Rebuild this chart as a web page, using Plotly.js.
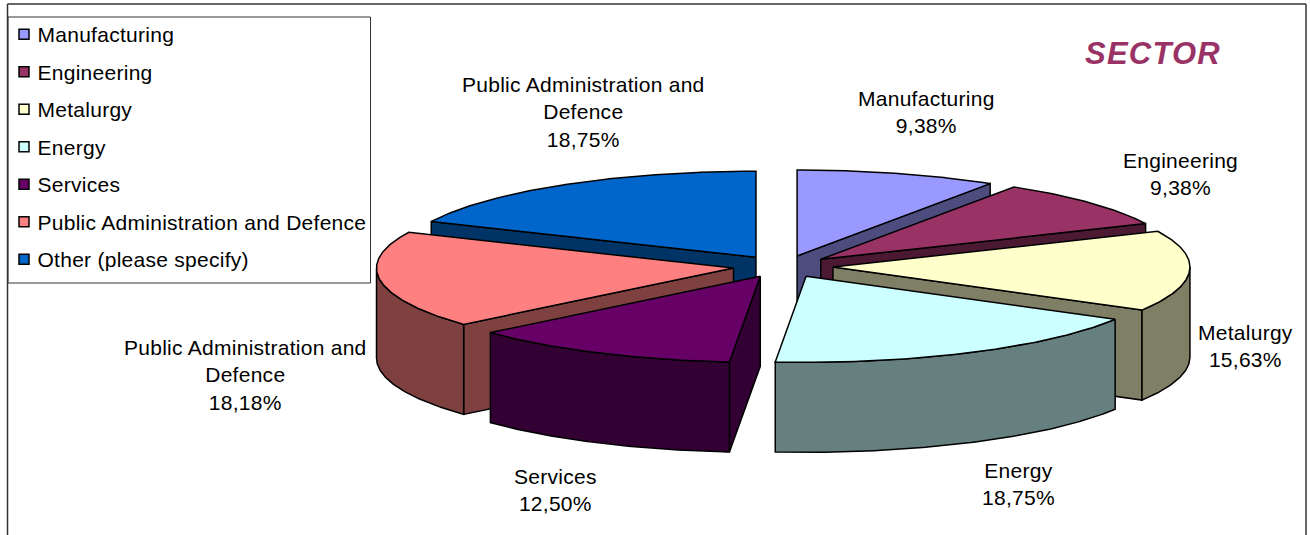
<!DOCTYPE html>
<html>
<head>
<meta charset="utf-8">
<script src="https://cdn.plot.ly/plotly-3.0.1.min.js"></script>
<style>
html,body{margin:0;padding:0;background:#fff;overflow:hidden}
#chart{width:1310px;height:535px}
svg text{letter-spacing:.27px}
svg text.gtitle{letter-spacing:1.2px}
.legend .legendpoints{transform:translateX(4px)}
.legend .legendtext{transform:translateX(-2.5px)}
</style>
</head>
<body>
<div id="chart"></div>
<script>
// ---- data ----
const categories = ["Manufacturing","Engineering","Metalurgy","Energy","Services","Public Administration and Defence","Other (please specify)"];
const sliceValues = [9.38,9.38,15.63,18.60,12.65,18.75,18.75];   // slice sizes as drawn
const pieLabels = ["Manufacturing<br>9,38%","Engineering<br>9,38%","Metalurgy<br>15,63%","Energy<br>18,75%","Services<br>12,50%","Public Administration and<br>Defence<br>18,18%","Public Administration and<br>Defence<br>18,75%"];
const topColors = ["#9999FF","#993366","#FFFFCC","#CCFFFF","#660066","#FF8080","#0066CC"];
const sideColors = ["#4C4C7F","#4C1933","#7F7F66","#667F7F","#330033","#7F4040","#003366"];

// ---- pie projection ----
const CX=783, CY=266.5, RX=357, RY=86, DEPTH=90, EX=50, EY=11;
const drawOrder=[0,6,1,5,2,4,3];
const labelPos=[[926,112],[1180,173.5],[1245,346],[1018,483.5],[555,490],[245,375],[583,111.5]];

const rad=d=>d*Math.PI/180;
const total=sliceValues.reduce((a,b)=>a+b,0);
let cum=0;
const slices=sliceValues.map((v,i)=>{
  const a=cum/total*360; cum+=v; const b=cum/total*360; const m=(a+b)/2;
  return {i,a,b,ax:CX+EX*Math.sin(rad(m)),ay:CY-EY*Math.cos(rad(m))};
});
const pt=(s,d)=>[s.ax+RX*Math.sin(rad(d)),s.ay-RY*Math.cos(rad(d))];
function arc(s,from,to){const n=Math.max(2,Math.ceil(to-from)*2),o=[];for(let k=0;k<=n;k++)o.push(pt(s,from+(to-from)*k/n));return o;}
function poly(pts,color){
  const c=pts.concat([pts[0]]);
  return {type:"scatter",mode:"lines",x:c.map(p=>p[0]),y:c.map(p=>p[1]),fill:"toself",fillcolor:color,
    line:{color:"#000",width:1.5,shape:"linear"},hoverinfo:"skip",showlegend:false};
}
const down=p=>[p[0],p[1]+DEPTH];
const traces=[];
drawOrder.forEach(i=>{
  const s=slices[i],side=sideColors[i],ap=[s.ax,s.ay];
  const wall=d=>{const p=pt(s,d);traces.push(poly([ap,p,down(p),down(ap)],side));};
  if(Math.sin(rad(s.a))<-1e-6) wall(s.a);
  if(Math.sin(rad(s.b))>1e-6) wall(s.b);
  const lo=Math.max(s.a,90),hi=Math.min(s.b,270);
  if(hi>lo){const r=arc(s,lo,hi);traces.push(poly(r.concat(r.slice().reverse().map(down)),side));}
  traces.push(poly([ap].concat(arc(s,s.a,s.b)),topColors[i]));
});
categories.forEach((name,i)=>traces.push({type:"scatter",mode:"markers",x:[null],y:[null],name,legendgroup:"g"+i,
  marker:{symbol:"square",size:10,color:topColors[i],line:{color:"#000",width:1.5}},hoverinfo:"skip"}));

const font={family:"Liberation Sans, Arial, sans-serif",size:21,color:"#000"};
const frame=(x0,y0,x1,y1,color)=>({type:"line",xref:"x",yref:"y",x0,y0,x1,y1,line:{color,width:1.5}});
const layout={
  width:1310,height:535,margin:{l:0,r:0,t:0,b:0,pad:0},paper_bgcolor:"#fff",plot_bgcolor:"#fff",
  xaxis:{range:[0,1310],domain:[0,1],visible:false,fixedrange:true},
  yaxis:{range:[535,0],domain:[0,1],visible:false,fixedrange:true},
  title:{text:"SECTOR",x:1153/1310,xref:"paper",xanchor:"center",y:1-53/535,yref:"paper",yanchor:"middle",
    font:{family:font.family,size:31,weight:"bold",style:"italic",color:"#993366"}},
  showlegend:true,
  legend:{x:0,xanchor:"left",y:1-14/535,yanchor:"top",font,tracegroupgap:7.2,bgcolor:"rgba(0,0,0,0)",borderwidth:0,traceorder:"grouped",itemclick:false,itemdoubleclick:false},
  shapes:[frame(7.5,4,1306,4,"#333"),frame(7.5,4,7.5,535,"#333"),frame(1306,4,1306,535,"#333"),
    {type:"rect",xref:"x",yref:"y",x0:8,y0:17,x1:370.5,y1:283,line:{color:"#333",width:1},fillcolor:"rgba(0,0,0,0)"}],
  annotations:pieLabels.map((t,i)=>({text:t,x:labelPos[i][0],y:labelPos[i][1],xref:"x",yref:"y",showarrow:false,xanchor:"center",yanchor:"middle",align:"center",font}))
};
Plotly.newPlot("chart",traces,layout,{displayModeBar:false});
</script>
</body>
</html>
